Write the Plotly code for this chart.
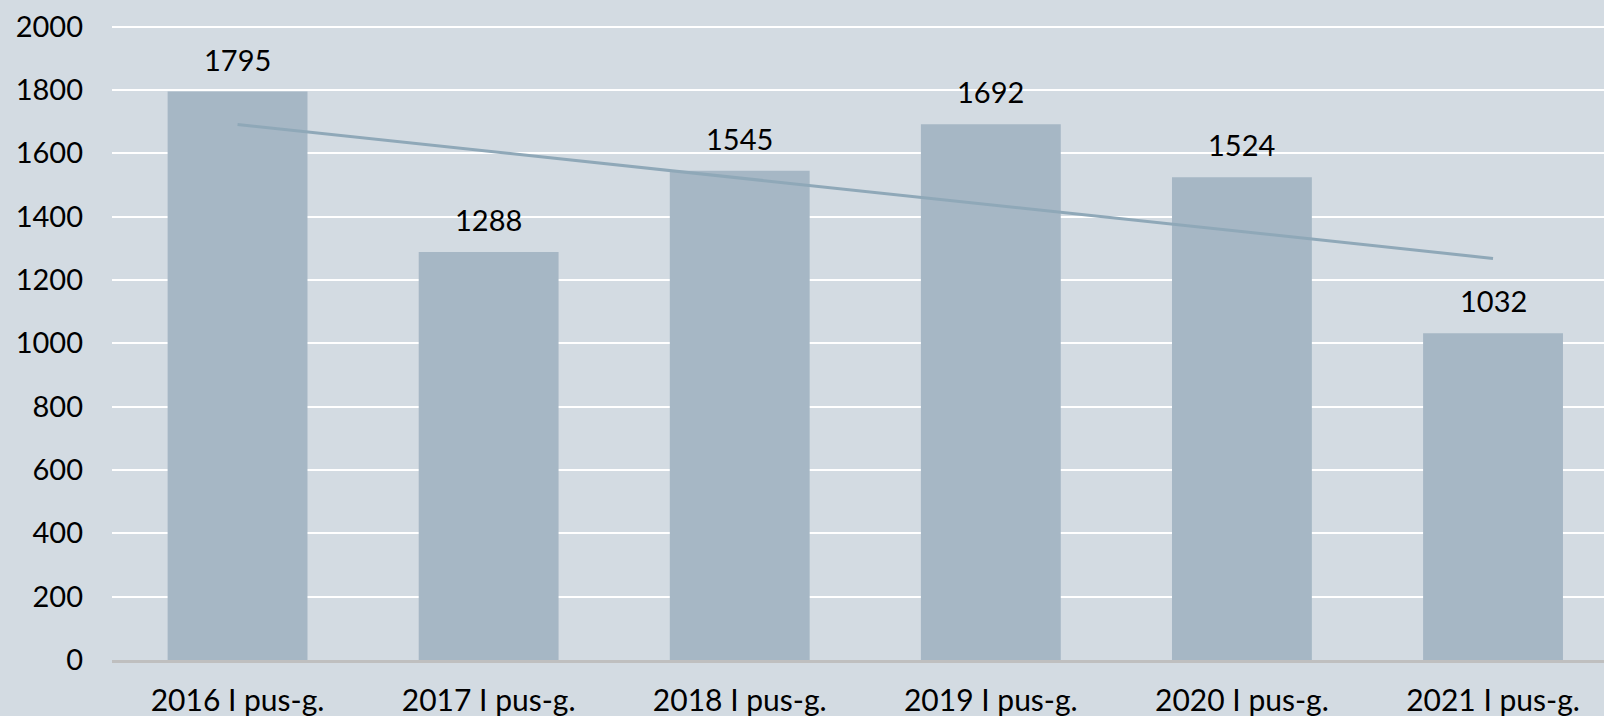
import plotly.graph_objects as go

categories = ["2016 I pus-g.", "2017 I pus-g.", "2018 I pus-g.", "2019 I pus-g.", "2020 I pus-g.", "2021 I pus-g."]
values = [1795, 1288, 1545, 1692, 1524, 1032]
# trend line end points
trend_x = [categories[0], categories[-1]]
trend_y = [1691, 1268]
y_ticks = [0, 200, 400, 600, 800, 1000, 1200, 1400, 1600, 1800, 2000]

BG = "#d3dbe2"
BAR = "#a6b7c5"
TREND = "#8fa8b8"
FONT = "Lato, Liberation Sans, sans-serif"

fig = go.Figure()
fig.add_trace(go.Bar(
    x=categories, y=values, marker=dict(color=BAR, line=dict(width=0)),
    hoverinfo="skip",
))
fig.add_trace(go.Scatter(
    x=trend_x, y=trend_y, mode="lines",
    line=dict(color=TREND, width=3), hoverinfo="skip",
))
for c, v in zip(categories, values):
    fig.add_annotation(x=c, y=v, text=str(v), showarrow=False,
                       yanchor="bottom", yshift=13,
                       font=dict(size=29, color="#000000", family=FONT))

fig.update_layout(
    width=1604, height=716,
    paper_bgcolor=BG, plot_bgcolor=BG,
    margin=dict(l=112, r=0, t=25, b=56),
    showlegend=False,
    bargap=0.443,
    font=dict(family=FONT, size=29, color="#000000"),
)
fig.update_xaxes(
    range=[-0.5, 5.442], showgrid=False, showline=True,
    linecolor="#bfbfbf", linewidth=3, ticks="", automargin=False,
    ticklabelstandoff=12, tickfont=dict(size=30),
)
fig.update_yaxes(
    range=[0, 2005], tickvals=y_ticks, showgrid=True, gridcolor="#ffffff",
    gridwidth=2, zeroline=False, showline=False, ticks="",
    automargin=False, ticklabelstandoff=28, tickfont=dict(size=29),
)

# drop the browser's default body margin so the chart fills the window
fig.write_html("out.html", config={"displayModeBar": False},
               post_script="document.body.style.margin='0';")
